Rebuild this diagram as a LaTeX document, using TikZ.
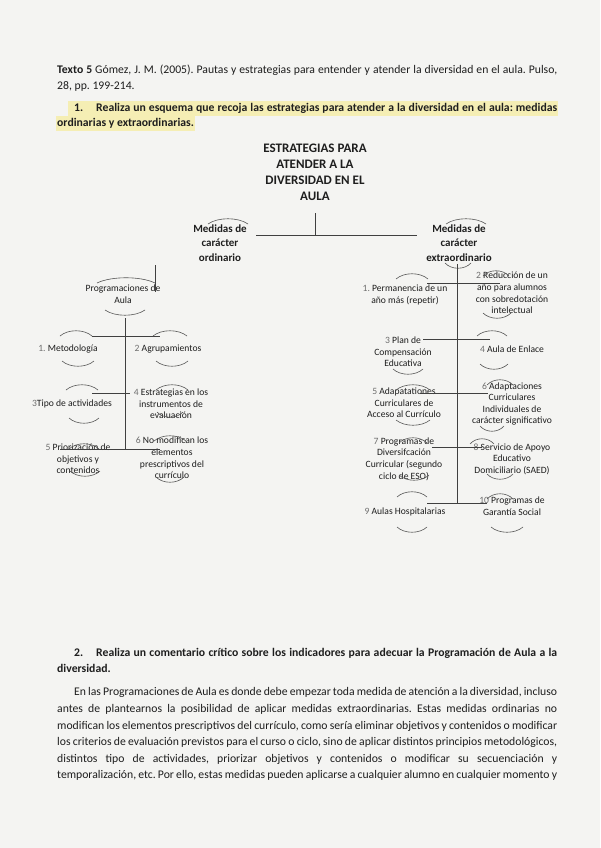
\documentclass[tikz,border=0pt]{standalone}
\usepackage{fontspec}
\setmainfont{Carlito}
\frenchspacing
\definecolor{ink}{HTML}{1E1E1E}
\definecolor{paper}{HTML}{F4F4F2}
\definecolor{hlite}{HTML}{F5EEB4}
\definecolor{pen}{HTML}{6E6E6E}
\tikzset{
  txt/.style={anchor=west, inner sep=0pt, text=ink, font=\fontsize{11.7}{14}\selectfont, text height=8.5pt, text depth=2.5pt},
  btxt/.style={txt, font=\bfseries\fontsize{11.7}{14}\selectfont},
  lbl/.style={align=center, inner sep=0pt, text=ink, font=\fontsize{9.6}{11.6}\selectfont},
  med/.style={align=center, inner sep=0pt, text=ink, font=\bfseries\fontsize{11}{14.5}\selectfont},
  ttl/.style={align=center, inner sep=0pt, text=ink, font=\bfseries\fontsize{13}{16}\selectfont},
  link/.style={draw=ink!85, line width=0.7pt},
  arcsty/.style={draw=ink!75, line width=0.6pt},
}
\newcommand\pnum[1]{\textcolor{pen}{#1}}
\newcommand\jbox[2]{\hbox to #1pt{#2}}
\newcommand\uparc[3]{\draw[arcsty] ({#1-#3/2},{#2}) .. controls ({#1-#3/4},{#2-7}) and ({#1+#3/4},{#2-7}) .. ({#1+#3/2},{#2});}
\newcommand\dnarc[3]{\draw[arcsty] ({#1-#3/2},{#2}) .. controls ({#1-#3/4},{#2+7}) and ({#1+#3/4},{#2+7}) .. ({#1+#3/2},{#2});}
\begin{document}
\begin{tikzpicture}[x=1pt,y=-1pt]
\fill[paper] (0,0) rectangle (600,848);
\useasboundingbox (0,0) rectangle (600,848);

% highlight of question 1 (first line)
\fill[hlite] (68,101) rectangle (558,116.5);

% header
\node[txt] (h1) at (57,71) {\jbox{500}{\textbf{Texto 5} Gómez, J. M. (2005). Pautas y estrategias para entender y atender la diversidad en el aula. Pulso,}};
\node[txt] (h2) at (57,87) {28, pp. 199-214.};
\node[btxt] (q1n) at (74,109) {1.};
\node[btxt] (q1a) at (96,109) {\jbox{461}{Realiza un esquema que recoja las estrategias para atender a la diversidad en el aula: medidas}};
\node[btxt, fill=hlite, inner xsep=1.5pt, inner ysep=1.8pt] (q1b) at (55.5,123.5) {ordinarias y extraordinarias.};

% title
\node[ttl] (title) at (315,172) {ESTRATEGIAS PARA\\ATENDER A LA\\DIVERSIDAD EN EL\\AULA};
\coordinate (tt) at (315,213);
\coordinate (tb) at (315,235);
\coordinate (hbl) at (256,235);
\coordinate (hbr) at (417,235);
\draw[link] (tt) -- (tb);
\draw[link] (hbl) -- (hbr);

\node[med] (ord) at (220,243) {Medidas de\\carácter\\ordinario};
\node[med] (ext) at (459,243) {Medidas de\\carácter\\extraordinario};
\uparc{228}{224}{40}
\uparc{466}{224}{40}
\dnarc{458}{263}{26}

% left tree
\node[lbl] (prog) at (123,294) {Programaciones de\\Aula};
\coordinate (o1) at (155,265);
\coordinate (o2) at (155,292);
\draw[link] (o1) -- (o2);
\uparc{126}{283}{58}
\dnarc{125}{310}{40}

\coordinate (lt1) at (125,318);
\coordinate (lt2) at (125,449);
\draw[link] (lt1) -- (lt2);

\node[lbl] (met) at (68,349) {\pnum{1.} Metodología};
\node[lbl] (agr) at (168,349) {\pnum{2} Agrupamientos};
\coordinate (l1a) at (92,336); \coordinate (l1b) at (160,336);
\draw[link] (l1a) -- (l1b);
\uparc{76}{336}{32} \dnarc{78}{361}{32}
\uparc{170}{336}{34} \dnarc{172}{361}{32}

\node[lbl] (tipo) at (72,404) {\pnum{3}Tipo de actividades};
\node[lbl] (estr) at (171,404) {\pnum{4} Estrategias en los\\instrumentos de\\evaluación};
\coordinate (l2a) at (92,393); \coordinate (l2b) at (130,393);
\draw[link] (l2a) -- (l2b);
\uparc{82}{390}{32} \dnarc{84}{418}{30}
\uparc{172}{390}{32} \dnarc{170}{412}{26}

\node[lbl] (prio) at (78,459) {\pnum{5} Priorización de\\objetivos y\\contenidos};
\node[lbl] (nomod) at (172,458) {\pnum{6} No modifican los\\elementos\\prescriptivos del\\currículo};
\coordinate (l3a) at (60,449); \coordinate (l3b) at (160,449);
\draw[link] (l3a) -- (l3b);
\uparc{84}{449}{30} \dnarc{85}{471}{30}
\uparc{170}{441}{32} \dnarc{170}{477}{28}

% right tree
\coordinate (rt1) at (457,264);
\coordinate (rt2) at (457,503);
\draw[link] (rt1) -- (rt2);

\node[lbl] (perm) at (405,295) {\pnum{1.} Permanencia de un\\año más (repetir)};
\node[lbl] (red) at (512,293) {\pnum{2} Reducción de un\\año para alumnos\\con sobredotación\\intelectual};
\coordinate (r1a) at (427,283); \coordinate (r1b) at (500,283);
\draw[link] (r1a) -- (r1b);
\uparc{412}{279}{32}
\uparc{496}{276}{26} \dnarc{497}{313}{28}

\node[lbl] (plan) at (403,352) {\pnum{3} Plan de\\Compensación\\Educativa};
\node[lbl] (enl) at (512,349) {\pnum{4} Aula de Enlace};
\coordinate (r2a) at (423,339); \coordinate (r2b) at (490,339);
\draw[link] (r2a) -- (r2b);
\dnarc{408}{369}{30}
\uparc{492}{336}{30} \dnarc{494}{364}{28}

\node[lbl] (acc) at (404,403) {\pnum{5} Adapatationes\\Curriculares de\\Acceso al Currículo};
\node[lbl] (aci) at (512,404) {\pnum{6} Adaptaciones\\Curriculares\\Individuales de\\carácter significativo};
\coordinate (r3a) at (420,393); \coordinate (r3b) at (488,393);
\draw[link] (r3a) -- (r3b);
\uparc{413}{390}{34} \dnarc{413}{420}{34}
\uparc{500}{385}{26} \dnarc{492}{426}{24}

\node[lbl] (div) at (404,459) {\pnum{7} Programas de\\Diversifcación\\Curricular (segundo\\ciclo de ESO)};
\node[lbl] (saed) at (512,459) {\pnum{8} Servicio de Apoyo\\Educativo\\Domiciliario (SAED)};
\coordinate (r4a) at (432,447); \coordinate (r4b) at (482,447);
\draw[link] (r4a) -- (r4b);
\uparc{413}{443}{28} \dnarc{414}{475}{30}
\uparc{482}{444}{24} \dnarc{500}{474}{26}

\node[lbl] (hosp) at (405,512) {\pnum{9} Aulas Hospitalarias};
\node[lbl] (gar) at (512,506) {\pnum{10} Programas de\\Garantía Social};
\coordinate (r5a) at (427,503); \coordinate (r5b) at (487,503);
\draw[link] (r5a) -- (r5b);
\uparc{412}{497}{30} \dnarc{412}{527}{30}
\uparc{500}{499}{26} \dnarc{507}{527}{32}

% question 2
\node[btxt] (q2n) at (74,653) {2.};
\node[btxt] (q2a) at (96,653) {\jbox{461}{Realiza un comentario crítico sobre los indicadores para adecuar la Programación de Aula a la}};
\node[btxt] (q2b) at (57,669) {diversidad.};

% paragraph
\node[txt] (p1) at (74,692) {\jbox{483}{En las Programaciones de Aula es donde debe empezar toda medida de atención a la diversidad, incluso}};
\node[txt] (p2) at (57,709) {\jbox{500}{antes de plantearnos la posibilidad de aplicar medidas extraordinarias. Estas medidas ordinarias no}};
\node[txt] (p3) at (57,726) {\jbox{500}{modifican los elementos prescriptivos del currículo, como sería eliminar objetivos y contenidos o modificar}};
\node[txt] (p4) at (57,742) {\jbox{500}{los criterios de evaluación previstos para el curso o ciclo, sino de aplicar distintos principios metodológicos,}};
\node[txt] (p5) at (57,759) {\jbox{500}{distintos tipo de actividades, priorizar objetivos y contenidos o modificar su secuenciación y}};
\node[txt] (p6) at (57,775) {\jbox{500}{temporalización, etc. Por ello, estas medidas pueden aplicarse a cualquier alumno en cualquier momento y}};
\end{tikzpicture}
\end{document}
